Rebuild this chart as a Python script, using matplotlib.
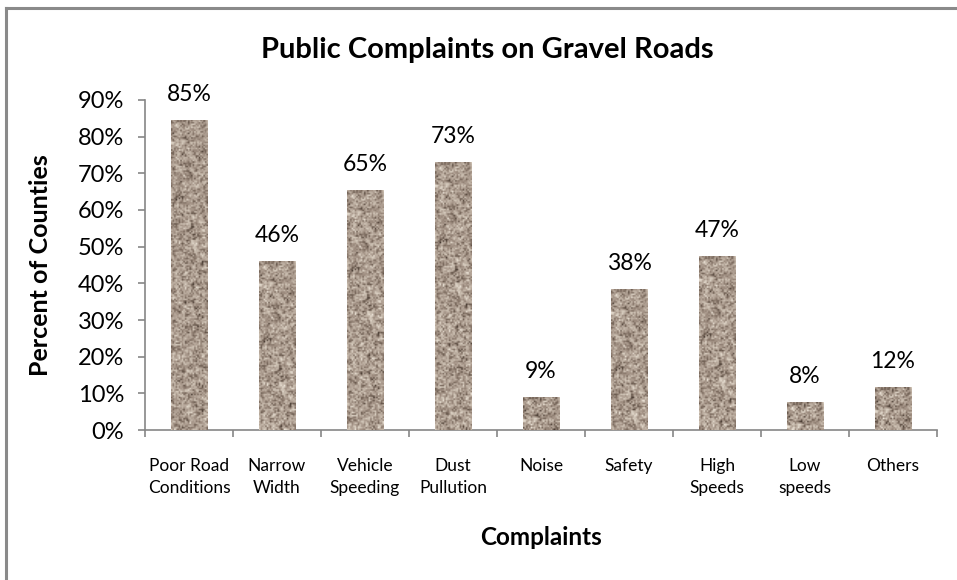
import numpy as np
import matplotlib.pyplot as plt
from matplotlib.colors import LinearSegmentedColormap

# Данные
categories = ["Poor Road\nConditions", "Narrow\nWidth", "Vehicle\nSpeeding", "Dust\nPullution",
              "Noise", "Safety", "High\nSpeeds", "Low\nspeeds", "Others"]
percents = [84.6, 46.0, 65.4, 73.0, 9.0, 38.4, 47.4, 7.6, 11.6]
yticks = [0, 10, 20, 30, 40, 50, 60, 70, 80, 90]

plt.rcParams['font.family'] = ['Lato', 'DejaVu Sans']
axis_grey = '#868686'

fig = plt.figure(figsize=(9.57, 5.8), dpi=100)
ax = fig.add_axes([0.1515, 0.2586, 0.8276, 0.569])

x = np.arange(len(categories))
bars = ax.bar(x, percents, width=0.41, color='#a89b8f', zorder=2)

# Текстура "гравий" для столбцов (квадратные ячейки ~1.5 px)
rng = np.random.default_rng(11)
NR, NC = 220, 24
noise = rng.random((NR + 2, NC + 2))
smooth = sum(noise[i:i + NR, j:j + NC] for i in range(3) for j in range(3)) / 9.0
smooth = 0.6 * smooth + 0.4 * rng.random((NR, NC))
smooth = (smooth - smooth.min()) / (smooth.max() - smooth.min())
gravel = LinearSegmentedColormap.from_list(
    'gravel', ['#3e322a', '#6f5f53', '#9c8b7e', '#b5a699', '#cbbfb1', '#eee6da'])
for b in bars:
    x0, w, h = b.get_x(), b.get_width(), b.get_height()
    rows = max(3, int(NR * h / 90))
    im = ax.imshow(smooth[:rows], cmap=gravel, extent=[x0, x0 + w, 0, h],
                   aspect='auto', zorder=3, interpolation='bilinear')
    im.set_clip_path(b)

for xi, v in zip(x, percents):
    ax.annotate(f"{round(v)}%", (xi, v), xytext=(0, 11), textcoords='offset points',
                ha='center', va='bottom', fontsize=16.5)

ax.set_xlim(-0.5, len(categories) - 0.5)
ax.set_ylim(0, 90)
ax.set_yticks(yticks)
ax.set_yticklabels([f"{t}%" for t in yticks], fontsize=17)

ax.set_xticks(np.arange(len(categories) + 1) - 0.5)
ax.set_xticklabels([])
ax.set_xticks(x, minor=True)
ax.set_xticklabels(categories, minor=True, fontsize=12.5, linespacing=1.5)
ax.tick_params(axis='x', which='minor', length=0, pad=20)
ax.tick_params(axis='x', which='major', length=5, color=axis_grey, width=1.2)
ax.tick_params(axis='y', length=5, color=axis_grey, width=1.2, pad=10)

for s in ['top', 'right']:
    ax.spines[s].set_visible(False)
for s in ['left', 'bottom']:
    ax.spines[s].set_color(axis_grey)
    ax.spines[s].set_linewidth(1.2)

fig.text(0.509, 0.913, "Public Complaints on Gravel Roads", ha='center', va='center',
         fontsize=21, fontweight='bold')
fig.text(0.042, 0.543, "Percent of Counties", ha='center', va='center', rotation=90,
         fontsize=18, fontweight='bold')
fig.text(0.565, 0.074, "Complaints", ha='center', va='center',
         fontsize=17.5, fontweight='bold')

# Рамка области диаграммы (видны только верх и левый край)
fig.add_artist(plt.Line2D([0.0065, 1.0], [0.987, 0.987], color='#8a8a8a', lw=2.2))
fig.add_artist(plt.Line2D([0.0065, 0.0065], [0.0, 0.987], color='#8a8a8a', lw=2.2))

fig.savefig("out.png", dpi=100)
plt.close(fig)
